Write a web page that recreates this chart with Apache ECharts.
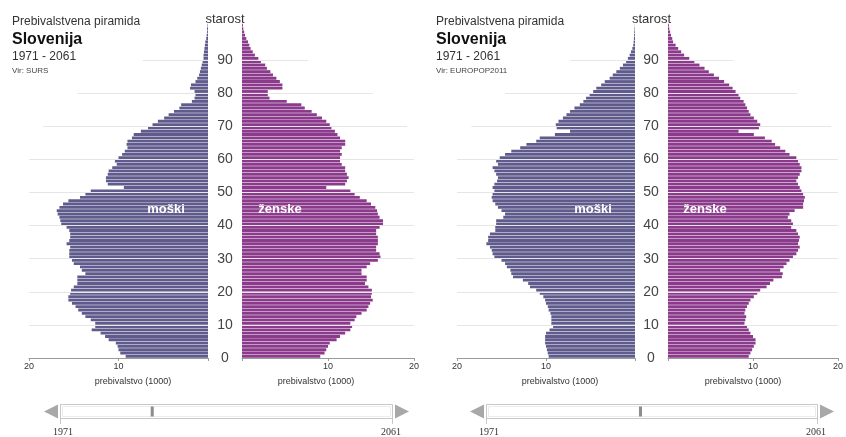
<!DOCTYPE html>
<html>
<head>
<meta charset="utf-8">
<script src="https://cdn.jsdelivr.net/npm/echarts@6/dist/echarts.min.js"></script>
<style>
html,body{margin:0;padding:0;background:#fff;}
#chart{width:846px;height:437px;}
</style>
</head>
<body>
<div id="chart"></div>
<script>
// ---- data (population in thousands, by single year of age 0..100) ----
const ages = Array.from({length:101}, (_, i) => String(i));
const ageTickLabels = [0,10,20,30,40,50,60,70,80,90];
const gridAges = [10,20,30,40,50,60,70,80,90];

const maleSURS = [9.2,9.8,10.0,10.1,10.3,11.1,11.5,12.0,13.0,12.6,
  12.6,13.1,13.7,14.1,14.5,14.8,15.2,15.6,15.6,15.4,
  15.3,15.0,14.6,14.6,14.6,13.7,14.1,14.3,15.0,15.2,
  15.5,15.5,15.5,15.4,15.8,15.5,15.4,15.4,15.5,15.8,
  16.4,16.5,16.6,16.8,16.9,16.6,16.2,15.6,14.3,13.7,
  13.1,9.4,11.2,11.4,11.4,11.2,11.1,10.7,10.2,10.4,
  10.0,9.6,9.3,9.0,9.1,9.0,8.5,8.3,7.5,6.7,
  6.2,5.6,4.9,4.4,3.8,3.2,3.0,1.8,1.5,1.4,
  1.5,2.0,1.9,1.4,1.2,1.0,0.9,0.8,0.7,0.6,
  0.5,0.5,0.45,0.4,0.35,0.3,0.2,0.15,0.1,0.1,0.05];
const femaleSURS = [9.1,9.6,9.8,10.0,10.2,11.0,11.4,12.0,12.6,12.8,
  12.6,13.1,13.3,13.9,14.5,14.7,14.9,15.2,15.0,15.1,
  15.1,14.7,14.3,14.5,14.5,13.9,13.9,14.5,14.9,15.8,
  16.1,16.0,15.6,15.6,15.8,15.8,15.8,15.6,15.6,16.0,
  16.4,16.4,16.0,15.8,15.7,15.5,15.0,14.5,13.7,13.1,
  12.6,9.8,12.0,12.2,12.4,12.2,12.0,12.0,11.6,11.4,
  11.4,11.6,11.4,11.6,12.0,12.0,11.4,11.1,10.8,10.4,
  10.2,9.8,9.3,8.7,8.1,7.3,6.9,5.2,3.2,3.0,
  3.0,4.7,4.7,4.4,4.0,3.6,3.3,2.9,2.7,2.2,
  1.9,1.5,1.25,1.0,0.85,0.7,0.5,0.35,0.25,0.15,0.1];
const maleEUROPOP = [9.7,9.8,9.9,10.0,10.1,10.1,10.1,10.0,9.6,9.2,
  9.4,9.4,9.4,9.5,9.7,9.8,10.0,10.1,10.3,10.7,
  11.1,11.8,12.0,12.6,13.7,13.9,14.0,14.4,14.6,15.0,
  15.8,16.0,16.1,16.3,16.7,16.5,16.5,16.3,15.7,15.7,
  15.6,15.6,14.8,14.6,15.0,15.4,15.7,16.0,16.1,16.0,
  15.8,16.0,15.8,15.5,15.4,15.6,15.8,16.0,15.4,15.6,
  15.2,14.6,13.9,12.9,12.2,11.1,10.7,9.0,7.3,8.8,
  8.9,8.6,8.1,7.7,7.3,6.8,6.2,5.8,5.5,5.1,
  4.7,4.35,3.8,3.4,2.85,2.5,2.1,1.7,1.35,1.0,
  0.8,0.6,0.45,0.3,0.2,0.15,0.12,0.1,0.08,0.05,0.02];
const femaleEUROPOP = [9.5,9.7,9.9,10.1,10.3,10.3,10.0,9.7,9.5,9.3,
  9.0,9.1,9.2,9.0,9.1,9.3,9.5,9.7,10.1,10.5,
  10.85,11.6,12.0,12.4,13.4,13.5,13.2,13.6,13.95,14.3,
  14.7,15.1,15.3,15.5,15.3,15.4,15.5,15.3,15.1,14.5,
  14.7,14.5,14.1,14.3,14.9,15.9,15.9,16.0,16.1,15.9,
  15.7,15.5,15.3,15.1,15.3,15.5,15.7,15.7,15.5,15.3,
  15.1,14.3,13.8,13.2,12.6,12.2,11.4,10.1,8.3,10.7,
  10.85,10.5,10.1,9.7,9.5,9.3,9.1,8.9,8.5,8.3,
  7.95,7.6,7.2,6.6,6.0,5.4,4.8,4.3,3.7,3.1,
  2.5,1.9,1.55,1.2,0.9,0.6,0.5,0.35,0.25,0.15,0.1];

const titleTop = 'Prebivalstvena piramida';
const titleMain = 'Slovenija';
const titleRange = '1971 - 2061';
const sources = ['Vir: SURS', 'Vir: EUROPOP2011'];
const yearRange = [1971, 2061];
const shownYears = [1996, 2013];
const axisTitleX = 'prebivalstvo (1000)';
const axisTitleY = 'starost';
const sexLabels = ['moški', 'ženske'];

// ---- layout / style ----
const MALE = '#5f5b8c', FEMALE = '#8b3a8c';
const TOP = 23.6, HEIGHT = 334.4;
const panels = [
  {male: maleSURS, female: femaleSURS, src: sources[0], year: shownYears[0],
   mLeft: 29, mW: 179, fLeft: 242, fW: 172, center: 225, tx: 12,
   mTitle: 133, fTitle: 316, mLab: 166, fLab: 280,
   sx0: 60, sx1: 392},
  {male: maleEUROPOP, female: femaleEUROPOP, src: sources[1], year: shownYears[1],
   mLeft: 457, mW: 178, fLeft: 668, fW: 172, center: 651.5, tx: 436,
   mTitle: 560, fTitle: 743, mLab: 593, fLab: 705,
   sx0: 486, sx1: 817}
];
// how far (in units) the faint age grid lines reach, by side
const reachMale = {70: 18.4, 80: 14.6, 90: 7.3};
const reachFemale = {70: 19.2, 80: 15.2, 90: 7.7};

const grids = [], xAxes = [], yAxes = [], series = [], graphics = [];

panels.forEach((p, pi) => {
  [['m', p.mLeft, p.mW, p.male, MALE], ['f', p.fLeft, p.fW, p.female, FEMALE]].forEach(([sx, left, w, vals, col]) => {
    const g = grids.length;
    const isMale = sx === 'm';
    grids.push({left: left, width: w, top: TOP, height: HEIGHT});
    xAxes.push({
      gridIndex: g, type: 'value', min: 0, max: 20, interval: 10, inverse: isMale,
      axisLine: {show: true, onZero: false, lineStyle: {color: '#9a9a9a', width: 1}},
      axisTick: {show: true, length: 3, lineStyle: {color: '#9a9a9a'}},
      axisLabel: {fontSize: 9, color: '#333', margin: 4, fontFamily: 'Arial, Liberation Sans, sans-serif',
        formatter: v => v === 0 ? '' : String(v)},
      splitLine: {show: false}
    });
    yAxes.push({gridIndex: g, type: 'category', data: ages, show: false});
    yAxes.push({
      gridIndex: g, type: 'value', min: 0, max: 101, interval: 10, position: 'left',
      axisLine: {show: false}, axisTick: {show: false}, splitLine: {show: false},
      axisLabel: {show: !isMale, align: 'center', margin: 17, fontSize: 14, color: '#444',
        fontFamily: 'Arial, Liberation Sans, sans-serif',
        formatter: v => ageTickLabels.indexOf(v) >= 0 ? String(v) : ''}
    });
    const reach = isMale ? reachMale : reachFemale;
    series.push({
      type: 'line', xAxisIndex: g, yAxisIndex: 2 * g + 1, data: [], silent: true, z: 1,
      markLine: {
        symbol: ['none', 'none'], silent: true, animation: false,
        label: {show: false},
        lineStyle: {color: '#e6e6e6', width: 1, type: 'solid'},
        emphasis: {disabled: true},
        data: gridAges.map(a => [{coord: [0, a]}, {coord: [reach[a] !== undefined ? reach[a] : 20, a]}])
      }
    });
    series.push({
      type: 'bar', xAxisIndex: g, yAxisIndex: 2 * g, data: vals, z: 2,
      barCategoryGap: '14%', silent: true, animation: false,
      itemStyle: {color: col}
    });
  });

  const font = 'Arial, "Liberation Sans", sans-serif';
  graphics.push(
    {type: 'text', style: {x: p.tx, y: 22, text: titleTop, font: '12px ' + font, fill: '#333', textVerticalAlign: 'middle'}},
    {type: 'text', style: {x: p.tx, y: 40, text: titleMain, font: 'bold 16px ' + font, fill: '#111', textVerticalAlign: 'middle'}},
    {type: 'text', style: {x: p.tx, y: 57, text: titleRange, font: '12px ' + font, fill: '#333', textVerticalAlign: 'middle'}},
    {type: 'text', style: {x: p.tx, y: 71, text: p.src, font: '8px ' + font, fill: '#444', textVerticalAlign: 'middle'}},
    {type: 'text', style: {x: p.center, y: 19, text: axisTitleY, font: '13px ' + font, fill: '#333', textAlign: 'center', textVerticalAlign: 'middle'}},
    {type: 'text', style: {x: p.mTitle, y: 382, text: axisTitleX, font: '9px ' + font, fill: '#333', textAlign: 'center', textVerticalAlign: 'middle'}},
    {type: 'text', style: {x: p.fTitle, y: 382, text: axisTitleX, font: '9px ' + font, fill: '#333', textAlign: 'center', textVerticalAlign: 'middle'}},
    {type: 'text', z: 10, style: {x: p.mLab, y: 209, text: sexLabels[0], font: 'bold 13px ' + font, fill: '#fff', textAlign: 'center', textVerticalAlign: 'middle'}},
    {type: 'text', z: 10, style: {x: p.fLab, y: 209, text: sexLabels[1], font: 'bold 13px ' + font, fill: '#fff', textAlign: 'center', textVerticalAlign: 'middle'}}
  );
  // time slider
  const sy0 = 404, sh = 14;
  const thumbX = p.sx0 + (p.year - yearRange[0]) / (yearRange[1] - yearRange[0]) * (p.sx1 - p.sx0);
  graphics.push(
    {type: 'rect', shape: {x: p.sx0 + 0.5, y: sy0 + 0.5, width: p.sx1 - p.sx0, height: sh}, style: {fill: '#fff', stroke: '#c8c8c8', lineWidth: 1}},
    {type: 'rect', shape: {x: p.sx0 + 2.5, y: sy0 + 2.5, width: p.sx1 - p.sx0 - 4, height: sh - 4}, style: {fill: 'none', stroke: '#ececec', lineWidth: 1}},
    {type: 'rect', shape: {x: thumbX - 1.5, y: sy0 + 2.5, width: 3, height: sh - 4}, style: {fill: '#8c8c8c'}},
    {type: 'polygon', shape: {points: [[p.sx0 - 2, sy0 + 0.5], [p.sx0 - 2, sy0 + sh + 0.5], [p.sx0 - 16, sy0 + sh / 2 + 0.5]]}, style: {fill: '#a8a8a8'}},
    {type: 'polygon', shape: {points: [[p.sx1 + 3, sy0 + 0.5], [p.sx1 + 3, sy0 + sh + 0.5], [p.sx1 + 17, sy0 + sh / 2 + 0.5]]}, style: {fill: '#a8a8a8'}},
    {type: 'line', shape: {x1: p.sx0 + 0.5, y1: sy0 + sh, x2: p.sx0 + 0.5, y2: sy0 + sh + 6}, style: {stroke: '#c8c8c8', lineWidth: 1}},
    {type: 'line', shape: {x1: p.sx1 + 0.5, y1: sy0 + sh, x2: p.sx1 + 0.5, y2: sy0 + sh + 6}, style: {stroke: '#c8c8c8', lineWidth: 1}},
    {type: 'text', style: {x: p.sx0 + 3, y: 432, text: String(yearRange[0]), font: '10px "Liberation Serif", "DejaVu Serif", serif', fill: '#333', textAlign: 'center', textVerticalAlign: 'middle'}},
    {type: 'text', style: {x: p.sx1 - 1, y: 432, text: String(yearRange[1]), font: '10px "Liberation Serif", "DejaVu Serif", serif', fill: '#333', textAlign: 'center', textVerticalAlign: 'middle'}}
  );
});

const chart = echarts.init(document.getElementById('chart'), null, {renderer: 'canvas'});
chart.setOption({
  animation: false,
  backgroundColor: '#fff',
  grid: grids,
  xAxis: xAxes,
  yAxis: yAxes,
  series: series,
  graphic: graphics
});
</script>
</body>
</html>
